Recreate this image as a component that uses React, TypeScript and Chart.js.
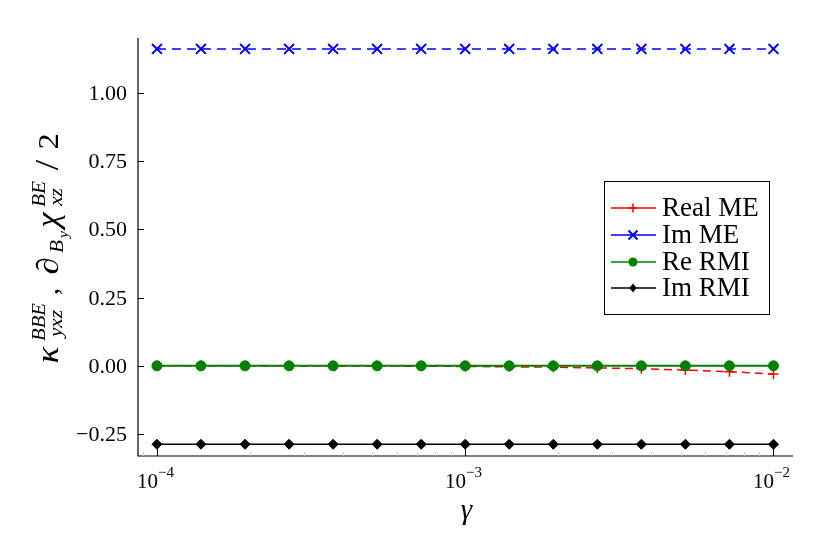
import React, { useEffect, useRef } from "react";
import { Chart, registerables } from "chart.js";

Chart.register(...registerables);

const gammaValues = [
  1.0e-4, 1.389e-4, 1.931e-4, 2.683e-4, 3.728e-4, 5.179e-4, 7.197e-4, 1.0e-3,
  1.389e-3, 1.931e-3, 2.683e-3, 3.728e-3, 5.179e-3, 7.197e-3, 1.0e-2,
];
const realME = [
  0.0, 0.0, 0.0, -0.0003, -0.0005, -0.0008, -0.0012, -0.0022, -0.0035, -0.005,
  -0.0075, -0.0105, -0.0155, -0.0215, -0.03,
];
const imME = [
  1.16, 1.16, 1.16, 1.16, 1.16, 1.16, 1.16, 1.16, 1.16, 1.16, 1.16, 1.16, 1.16,
  1.16, 1.16,
];
const reRMI = [0, 0, 0, 0, 0, 0, 0, 0, 0, 0, 0, 0, 0, 0, 0];
const imRMI = [
  -0.287, -0.287, -0.287, -0.287, -0.287, -0.287, -0.287, -0.287, -0.287,
  -0.287, -0.287, -0.287, -0.287, -0.287, -0.287,
];
const seriesNames = ["Real ME", "Im ME", "Re RMI", "Im RMI"];
const yTickValues = [-0.25, 0.0, 0.25, 0.5, 0.75, 1.0];
const yTickLabels = ["\u22120.25", "0.00", "0.25", "0.50", "0.75", "1.00"];
const xTickValues = [1e-4, 1e-3, 1e-2];
const xTickExponents = ["\u22124", "\u22123", "\u22122"];
const X_MIN = 8.68e-5;
const X_MAX = 1.157e-2;
const Y_MIN = -0.33;
const Y_MAX = 1.2;

const SERIF = "'Liberation Serif', 'DejaVu Serif', serif";

// text piece placed in a slot [at, at + w] along the (rotated) title line
type Piece = { t: string; size: number; italic?: boolean; at: number; w: number; dy?: number };

function drawPieces(ctx: CanvasRenderingContext2D, pieces: Piece[]) {
  ctx.textBaseline = "alphabetic";
  ctx.textAlign = "left";
  for (const p of pieces) {
    ctx.font = `${p.italic ? "italic " : ""}${p.size}px ${SERIF}`;
    const m = ctx.measureText(p.t).width;
    const sx = Math.min(Math.max(p.w / m, 1), 1.12);
    ctx.save();
    ctx.translate(p.at + (p.w - m * sx) / 2, p.dy || 0);
    ctx.scale(sx, 1);
    ctx.fillText(p.t, 0, 0);
    ctx.restore();
  }
}

function drawMarker(ctx: CanvasRenderingContext2D, style: string, x: number, y: number, r: number, color: string) {
  ctx.save();
  ctx.strokeStyle = color;
  ctx.fillStyle = color;
  ctx.lineWidth = 1.5;
  ctx.setLineDash([]);
  ctx.beginPath();
  if (style === "cross") {
    ctx.moveTo(x - r, y);
    ctx.lineTo(x + r, y);
    ctx.moveTo(x, y - r);
    ctx.lineTo(x, y + r);
    ctx.stroke();
  } else if (style === "crossRot") {
    const d = r * 0.75;
    ctx.lineWidth = 2;
    ctx.moveTo(x - d, y - d);
    ctx.lineTo(x + d, y + d);
    ctx.moveTo(x - d, y + d);
    ctx.lineTo(x + d, y - d);
    ctx.stroke();
  } else if (style === "circle") {
    ctx.arc(x, y, r, 0, Math.PI * 2);
    ctx.fill();
  } else {
    ctx.moveTo(x, y - r);
    ctx.lineTo(x + r * 0.8, y);
    ctx.lineTo(x, y + r);
    ctx.lineTo(x - r * 0.8, y);
    ctx.closePath();
    ctx.fill();
  }
  ctx.restore();
}

const decorPlugin = {
  id: "decor",
  afterDraw(chart: any) {
    const ctx: CanvasRenderingContext2D = chart.ctx;
    const { left, right, top, bottom } = chart.chartArea;
    const xs = chart.scales.x;
    const ys = chart.scales.y;
    ctx.save();
    ctx.setLineDash([]);
    // axes
    ctx.strokeStyle = "#000";
    ctx.lineWidth = 1.2;
    ctx.beginPath();
    ctx.moveTo(left, top);
    ctx.lineTo(left, bottom);
    ctx.lineTo(right, bottom);
    ctx.stroke();
    // y ticks
    ctx.lineWidth = 1;
    ctx.fillStyle = "#000";
    yTickValues.forEach((v, i) => {
      const py = Math.round(ys.getPixelForValue(v)) + 0.5;
      ctx.beginPath();
      ctx.moveTo(left, py);
      ctx.lineTo(left + 6, py);
      ctx.stroke();
      ctx.font = `22px ${SERIF}`;
      ctx.textAlign = "right";
      ctx.textBaseline = "middle";
      ctx.fillText(yTickLabels[i], left - 11, py + 1);
    });
    // x minor ticks
    ctx.strokeStyle = "#cccccc";
    for (let k = -5; k <= -2; k++) {
      for (let m = 2; m <= 9; m++) {
        const v = m * Math.pow(10, k);
        if (v <= X_MIN || v >= X_MAX) continue;
        const px = Math.round(xs.getPixelForValue(v)) + 0.5;
        ctx.beginPath();
        ctx.moveTo(px, bottom);
        ctx.lineTo(px, bottom - 4);
        ctx.stroke();
      }
    }
    // x major ticks
    ctx.strokeStyle = "#000";
    xTickValues.forEach((v, i) => {
      const px = Math.round(xs.getPixelForValue(v)) + 0.5;
      ctx.beginPath();
      ctx.moveTo(px, bottom);
      ctx.lineTo(px, bottom - 11);
      ctx.stroke();
      ctx.font = `21px ${SERIF}`;
      const w10 = ctx.measureText("10").width;
      ctx.font = `15px ${SERIF}`;
      const we = ctx.measureText(xTickExponents[i]).width;
      const x0 = px - (w10 + we) / 2 - 2;
      ctx.textAlign = "left";
      ctx.textBaseline = "alphabetic";
      ctx.font = `21px ${SERIF}`;
      ctx.fillText("10", x0, bottom + 32);
      ctx.font = `15px ${SERIF}`;
      ctx.fillText(xTickExponents[i], x0 + w10, bottom + 21);
    });
    // x title
    ctx.font = `italic 29px ${SERIF}`;
    ctx.textAlign = "center";
    ctx.textBaseline = "alphabetic";
    ctx.fillText("\u03b3", (left + right) / 2 + 1, bottom + 63);
    // y title (rotated; slots measured along the line from its start)
    ctx.save();
    ctx.translate(58, 368);
    ctx.rotate(-Math.PI / 2);
    drawPieces(ctx, [
      { t: "\u03ba", size: 31, italic: true, at: 2, w: 22 },
      { t: "BBE", size: 19, italic: true, at: 27, w: 38, dy: -13 },
      { t: "yxz", size: 19, italic: true, at: 28, w: 33, dy: 4 },
      { t: ",", size: 28, at: 73, w: 7 },
      { t: "\u2202", size: 31, italic: true, at: 92, w: 20 },
      { t: "B", size: 19, italic: true, at: 114, w: 15, dy: 5 },
      { t: "y", size: 14, italic: true, at: 129, w: 9, dy: 10 },
      { t: "\u03c7", size: 31, italic: true, at: 138, w: 20 },
      { t: "BE", size: 19, italic: true, at: 160, w: 28, dy: -13 },
      { t: "xz", size: 19, italic: true, at: 160, w: 22, dy: 4 },
      { t: "/", size: 34, at: 192, w: 22 },
      { t: "2", size: 29, at: 218, w: 17 },
    ]);
    ctx.restore();
    // legend
    const lx = 604, ly = 181, lw = 165, lh = 133;
    ctx.fillStyle = "#fff";
    ctx.fillRect(lx, ly, lw, lh);
    ctx.strokeStyle = "#000";
    ctx.lineWidth = 1;
    ctx.strokeRect(lx + 0.5, ly + 0.5, lw, lh);
    const rows = [208, 235, 262, 288];
    chart.data.datasets.forEach((ds: any, i: number) => {
      const ry = rows[i];
      ctx.strokeStyle = ds.borderColor;
      ctx.lineWidth = 1.5;
      ctx.setLineDash([]);
      ctx.beginPath();
      ctx.moveTo(611, ry);
      ctx.lineTo(656, ry);
      ctx.stroke();
      drawMarker(ctx, ds.pointStyle, 633, ry, ds.pointStyle === "crossRot" ? 6 : 4.5, ds.borderColor);
      ctx.fillStyle = "#000";
      ctx.font = `27px ${SERIF}`;
      ctx.textAlign = "left";
      ctx.textBaseline = "middle";
      ctx.fillText(ds.label, 662, ry + 1);
    });
    ctx.restore();
  },
};

export default function App() {
  const ref = useRef<HTMLCanvasElement | null>(null);
  useEffect(() => {
    if (!ref.current) return;
    const mk = (arr: number[]) => gammaValues.map((g, i) => ({ x: g, y: arr[i] }));
    const chart = new Chart(ref.current, {
      type: "line",
      data: {
        datasets: [
          {
            label: seriesNames[0],
            data: mk(realME),
            borderColor: "#ff0000",
            backgroundColor: "#ff0000",
            borderWidth: 1.5,
            borderDash: [8, 5],
            pointStyle: "cross",
            pointRadius: 5,
            pointBorderWidth: 1.5,
            order: 4,
          },
          {
            label: seriesNames[1],
            data: mk(imME),
            borderColor: "#0000ff",
            backgroundColor: "#0000ff",
            borderWidth: 1.5,
            borderDash: [9, 6],
            pointStyle: "crossRot",
            pointRadius: 7,
            pointBorderWidth: 2,
            order: 3,
          },
          {
            label: seriesNames[2],
            data: mk(reRMI),
            borderColor: "#008000",
            backgroundColor: "#008000",
            borderWidth: 2,
            pointStyle: "circle",
            pointRadius: 5,
            pointBorderWidth: 1,
            order: 1,
          },
          {
            label: seriesNames[3],
            data: mk(imRMI),
            borderColor: "#000000",
            backgroundColor: "#000000",
            borderWidth: 1.5,
            pointStyle: "rectRot",
            pointRadius: 5,
            pointBorderWidth: 1,
            order: 2,
          },
        ] as any,
      },
      options: {
        animation: false,
        responsive: false,
        devicePixelRatio: 1,
        layout: { padding: { left: 138, top: 38, right: 37, bottom: 98 } },
        plugins: { legend: { display: false }, tooltip: { enabled: false } },
        scales: {
          x: {
            type: "logarithmic",
            min: X_MIN,
            max: X_MAX,
            grid: { display: false },
            border: { display: false },
            ticks: { display: false },
            afterFit: (s: any) => {
              s.height = 0;
            },
          },
          y: {
            type: "linear",
            min: Y_MIN,
            max: Y_MAX,
            grid: { display: false },
            border: { display: false },
            ticks: { display: false },
            afterFit: (s: any) => {
              s.width = 0;
            },
          },
        },
      },
      plugins: [decorPlugin],
    } as any);
    return () => chart.destroy();
  }, []);
  return (
    <div style={{ position: "fixed", left: 0, top: 0, width: 830, height: 554, background: "#fff" }}>
      <canvas ref={ref} width={830} height={554} style={{ display: "block" }} />
    </div>
  );
}
